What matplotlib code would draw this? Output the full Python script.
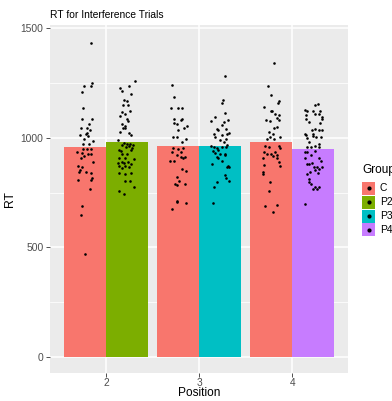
import matplotlib
matplotlib.use("Agg")
import matplotlib.pyplot as plt
from matplotlib.patches import Rectangle
import numpy as np

plt.rcParams['font.family'] = ['Liberation Sans', 'DejaVu Sans']

# ---------------- data ----------------
positions = [2, 3, 4]
position_labels = ["2", "3", "4"]
groups = ["C", "P2", "P3", "P4"]
group_colors = {"C": "#F8766D", "P2": "#7CAE00", "P3": "#00BFC4", "P4": "#C77CFF"}

# bars: (position, group, mean RT)
bar_positions = [2, 2, 3, 3, 4, 4]
bar_groups = ["C", "P2", "C", "P3", "C", "P4"]
bar_means = [957, 980, 962, 960, 980, 948]

# individual trials (RT) and their horizontal jitter
rt_c2 = [1431, 1251, 1235, 1236, 1206, 1135, 1087, 1084, 1064, 1046, 1044, 1036, 1010, 1019, 1008,
         993, 984, 950, 950, 950, 933, 931, 925, 924, 915, 909, 891, 873, 867, 854, 845, 843, 840,
         808, 808, 815, 766, 690, 648, 472, 1017, 972, 969]
jit_c2 = [0.064, 0.072, 0.064, -0.014, -0.032, -0.018, -0.032, 0.075, 0.046, 0.021, -0.043, 0.05, -0.057,
          0.021, 0.035, -0.007, 0.089, -0.025, 0.021, 0.064, -0.086, -0.029, 0.035, 0.064, -0.007, -0.043,
          0.086, -0.072, -0.029, -0.057, -0.067, 0.014, 0.064, -0.072, 0.061, 0.072, 0.053, -0.032, -0.04,
          0.0, 0.01, -0.02, 0.04]

rt_p2 = [1260, 1228, 1234, 1213, 1197, 1170, 1165, 1150, 1147, 1120, 1117, 1097, 1109, 1087, 1075, 1064,
         1052, 1044, 1044, 1026, 1019, 1011, 987, 974, 969, 969, 966, 966, 958, 962, 954, 945, 939, 942,
         927, 924, 909, 909, 903, 885, 888, 885, 891, 879, 870, 870, 864, 861, 841, 834, 841, 802, 802,
         776, 755, 741]
jit_p2 = [0.086, -0.075, 0.025, -0.057, 0.04, -0.035, 0.0, -0.043, 0.014, 0.035, -0.053, -0.078, -0.025,
          0.0, 0.011, -0.05, -0.025, -0.04, -0.018, -0.075, 0.025, 0.043, -0.093, -0.029, 0.0, 0.035, 0.064,
          -0.057, -0.014, 0.018, 0.057, -0.089, -0.064, 0.05, 0.004, -0.053, -0.082, -0.021, 0.075, -0.093,
          -0.057, -0.035, 0.011, 0.046, -0.082, -0.025, 0.018, -0.053, -0.082, -0.025, 0.043, -0.018, 0.029,
          0.082, -0.082, -0.032]

rt_c3 = [1242, 1186, 1133, 1133, 1135, 1084, 1081, 1066, 1060, 1087, 1053, 1044, 1034, 1005, 1005, 996,
         981, 954, 949, 954, 935, 933, 919, 912, 909, 912, 894, 894, 856, 849, 821, 803, 791, 785, 788,
         713, 675, 705, 704]
jit_c3 = [-0.07, -0.045, -0.073, 0.002, 0.041, -0.048, 0.027, -0.045, -0.009, 0.045, 0.091, 0.066, -0.002,
          -0.059, -0.009, 0.088, 0.045, -0.059, -0.002, 0.051, -0.066, 0.037, -0.013, 0.027, 0.056, 0.08,
          -0.041, -0.091, 0.045, 0.083, -0.009, 0.013, -0.037, -0.016, 0.08, -0.009, -0.07, -0.009, 0.083]

rt_p3 = [1279, 1171, 1160, 1111, 1094, 1078, 1082, 1069, 1056, 1040, 1034, 1041, 1017, 1019, 1017, 1002,
         1011, 991, 996, 978, 960, 957, 954, 957, 957, 966, 939, 930, 942, 924, 927, 912, 909, 894, 919,
         882, 873, 867, 864, 830, 818, 803, 800, 776, 701]
jit_p3 = [0.056, 0.037, 0.027, 0.056, -0.056, -0.094, 0.091, 0.041, 0.019, -0.034, -0.016, 0.07, 0.077,
          0.1, -0.059, -0.051, 0.027, -0.002, 0.062, 0.048, -0.094, -0.066, -0.03, 0.019, 0.07, 0.077,
          -0.073, -0.051, -0.024, 0.005, 0.056, -0.037, -0.016, 0.019, 0.059, -0.088, 0.083, 0.098, 0.077,
          0.059, 0.07, 0.098, -0.037, -0.066, -0.07]

rt_c4 = [1340, 1236, 1195, 1168, 1157, 1140, 1123, 1120, 1105, 1108, 1090, 1082, 1075, 1081, 1044, 1047,
         1026, 1017, 1005, 993, 996, 1002, 964, 957, 960, 954, 936, 927, 927, 936, 919, 916, 909, 909,
         888, 870, 876, 845, 834, 796, 755, 690, 693, 660]
jit_c4 = [0.025, -0.029, 0.003, 0.089, 0.075, -0.082, -0.003, 0.011, 0.089, 0.046, 0.061, -0.053, -0.011,
          0.089, 0.032, 0.067, -0.025, 0.018, -0.011, -0.04, 0.025, 0.096, -0.061, -0.018, 0.082, 0.096,
          -0.082, -0.046, -0.003, 0.046, 0.067, 0.018, -0.089, 0.061, 0.082, 0.096, -0.075, -0.089, -0.089,
          -0.011, -0.025, -0.067, 0.061, 0.018]

rt_p4 = [1147, 1153, 1126, 1120, 1123, 1123, 1105, 1096, 1108, 1108, 1087, 1087, 1069, 1066, 1038, 1033,
         1036, 1036, 1017, 1017, 1011, 1008, 999, 1002, 1002, 981, 969, 957, 957, 960, 957, 936, 933, 919,
         939, 906, 909, 894, 882, 879, 885, 867, 864, 867, 854, 856, 843, 834, 837, 812, 796, 788, 776,
         773, 764, 766, 698]
jit_p4 = [0.018, 0.057, -0.089, -0.067, 0.075, 0.003, -0.075, 0.1, 0.025, 0.067, -0.075, 0.1, -0.04, 0.075,
          0.025, 0.061, -0.011, 0.096, -0.089, 0.003, -0.075, -0.003, -0.061, 0.032, 0.089, -0.046, 0.061,
          -0.061, -0.025, 0.018, 0.061, -0.089, -0.067, -0.018, 0.025, -0.082, 0.067, 0.082, -0.067, -0.046,
          -0.011, 0.011, 0.046, 0.096, 0.025, 0.067, -0.032, -0.061, 0.053, -0.04, -0.046, -0.018, 0.025,
          0.061, 0.003, 0.04, -0.082]

point_sets = [(rt_c2, jit_c2), (rt_p2, jit_p2), (rt_c3, jit_c3), (rt_p3, jit_p3), (rt_c4, jit_c4), (rt_p4, jit_p4)]

title = "RT for Interference Trials"
x_label = "Position"
y_label = "RT"
legend_title = "Group"
y_ticks = [0, 500, 1000, 1500]

# ---------------- figure ----------------
W, H = 392, 401
fig = plt.figure(figsize=(W / 100, H / 100), dpi=100)
L, R, T, B = 50, 348, 25, 373
ax = fig.add_axes([L / W, 1 - B / H, (R - L) / W, (B - T) / H])
ax.set_facecolor("#EBEBEB")
for s in ax.spines.values():
    s.set_visible(False)

ax.set_xlim(1.4, 4.6)
ax.set_ylim(-72, 1513)

# grid
for yv in [250, 750, 1250]:
    ax.axhline(yv, color="white", lw=0.55, zorder=0)
for yv in y_ticks:
    ax.axhline(yv, color="white", lw=1.1, zorder=0)
for xv in positions:
    ax.axvline(xv, color="white", lw=1.1, zorder=0)

dodge = 0.225
bw = 0.45
centers = []
for p, g, m in zip(bar_positions, bar_groups, bar_means):
    pair = [gg for pp, gg in zip(bar_positions, bar_groups) if pp == p]
    off = -dodge if pair.index(g) == 0 else dodge
    c = p + off
    centers.append(c)
    ax.bar(c, m, width=bw, color=group_colors[g], zorder=2)

for c, (rts, jits) in zip(centers, point_sets):
    xs = c + np.array(jits)
    ax.scatter(xs, rts, s=3.5, color="black", zorder=3, linewidths=0)

ax.set_xticks(positions)
ax.set_xticklabels(position_labels)
ax.set_yticks(y_ticks)
ax.set_yticklabels([str(v) for v in y_ticks])
ax.tick_params(axis="both", length=2.8, width=0.6, color="#333333", labelcolor="#4D4D4D",
               labelsize=7.4, pad=2)
ax.tick_params(axis="x", pad=1)

ax.set_ylabel(y_label, fontsize=8.8, color="black", labelpad=3)
ax.set_title(title, fontsize=7.4, loc="left", pad=5, color="black")

# legend (manual)
def fx(px):
    return px / W

def fy(py):
    return 1 - py / H

fig.text(fx((L + R) / 2), fy(393.5), x_label, fontsize=8.6, va="center", ha="center")

fig.text(fx(362), fy(170), legend_title, fontsize=8.6, va="center", ha="left")
key_top = 181
key_h = 14
for i, g in enumerate(groups):
    y0 = key_top + i * key_h
    fig.add_artist(Rectangle((fx(362), fy(y0 + key_h - 0.5)), (375 - 362) / W, (key_h - 1) / H,
                             transform=fig.transFigure, facecolor=group_colors[g], edgecolor="none"))
    fig.add_artist(plt.Line2D([fx(368.5)], [fy(y0 + key_h / 2)], marker="o", markersize=2,
                              color="black", transform=fig.transFigure, linestyle="none"))
    fig.text(fx(380), fy(y0 + key_h / 2), g, fontsize=7.4, va="center", ha="left")

fig.savefig("out.png", dpi=100, facecolor="white")
